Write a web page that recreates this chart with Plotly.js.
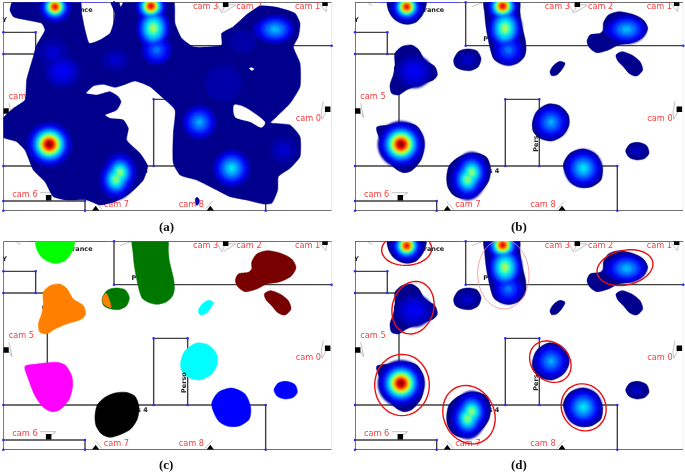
<!DOCTYPE html>
<html><head><meta charset="utf-8">
<script src="https://cdn.plot.ly/plotly-3.0.1.min.js"></script>
<style>html,body{margin:0;padding:0;background:#fff}#plot{width:685px;height:473px;filter:blur(0.55px)}</style>
</head><body><div id="plot"></div>
<script>
// All plan coordinates are in one shared floor-plan unit system (1 unit = 1/3 px).
const wallX = [30,30,null,30,100,null,345,1015,null,30,1015,null,362,362,1015,null,30,127,127,30,null,127,155,null,162,162,null,30,817,817,null,481,481,583,583,null,30,275,275];
const wallY = [7,632,null,7,7,null,7,7,null,632,632,null,7,137,137,null,97,97,162,162,null,162,162,null,162,498,null,498,498,632,null,498,298,298,498,null,603,603,632];
const dotX = [30,127,30,127,362,362,1015,162,30,481,583,481,583,817,817,30,275,275,30];
const dotY = [97,97,162,162,7,137,137,162,498,498,498,298,298,498,632,603,603,632,632];
const doorX = [100,345]; const doorY = [7,7];
const coneX = [672,685,697,null,690,727,700,null,978,998,1000,null,990,984,986,1003,null,47,56,44,null,140,188,168,null,305,326,null,657,635,null,380,412,null,70,82];
const coneY = [14,38,14,null,38,15,14,null,12,35,10,null,304,335,358,328,null,310,353,333,null,578,578,592,null,605,628,null,604,628,null,20,8,null,10,16];
const camSquareX = [697,995,1003,38,166]; const camSquareY = [13,10,328,333,593];
const camTriX = [307,651]; const camTriY = [627,627];
const camNames = ['cam 3','cam 2','cam 1','cam 5','cam 0','cam 6','cam 7','cam 8'];
const camNameX = [637,767,943,84,945,95,369,594];
const camNameY = [22,22,22,292,358,584,616,616];

const P1 = [[128,130,145,170,190,215,235,243,128],[0,30,55,70,73,65,40,0,0]];
const P2 = [[418,419,423,430,438,447,465,490,520,538,543,541,535,528,525,522,418],[0,40,80,120,155,178,190,196,188,170,150,120,95,65,35,0,0]];
const P3 = [[775,790,820,860,895,908,895,860,820,790,755,735,726,735,765,775,775],[70,45,35,42,60,85,110,128,135,150,158,145,125,105,100,90,70]];
const P4 = [[813,830,860,885,893,875,855,835,818,813],[165,155,165,185,210,228,222,200,182,165]];
const P5 = [[615,625,645,660,652,635,620,615],[215,197,184,190,207,225,227,215]];
const P6 = [[326,340,365,395,408,400,375,345,330,326],[180,155,147,152,175,200,212,208,198,180]];
const P7 = [[150,170,200,220,240,270,277,265,220,185,160,140,135,145,150,150],[160,140,135,148,180,200,225,240,255,270,285,280,255,225,195,160]];
const P8 = [[95,130,190,215,235,238,228,200,175,150,125,105,95],[382,375,370,378,410,440,480,512,518,505,470,420,382]];
const P9 = [[305,312,335,365,398,425,437,432,412,385,350,325,308,305],[530,498,475,462,460,472,505,540,570,585,595,585,560,530]];
const P10 = [[562,575,610,645,670,672,655,620,585,565,562],[370,335,312,318,345,375,405,423,415,395,370]];
const P11 = [[655,675,715,755,772,768,740,705,675,655],[495,460,447,465,505,540,560,562,545,495]];
const P12 = [[842,855,880,905,912,900,875,852,842],[453,432,427,437,460,475,480,472,453]];
const sliver = [[338,327,332,353,338],[163,181,196,206,163]];
const heatBlobs = [P1,P2,P3,P4,P5,P6,P7,P8,P9,P10,P11,P12];
const segColors = ['#00ff00','#007800','#780000','#780000','#00ffff','#007800','#ff8000','#ff00ff','#000000','#00ffff','#0000ff','#0000ff'];

// Panel (a): merged region outline, x stored 20 units left of the shared plan
const mergedX = [40,240,245,255,268,300,330,342,345,330,355,362,375,520,525,545,580,665,665,700,745,780,830,885,900,895,880,900,900,870,830,812,870,900,900,870,835,833,815,790,740,690,650,590,540,520,520,525,490,450,405,370,345,310,280,258,290,330,355,363,350,315,330,370,385,380,420,443,430,390,345,300,260,200,160,135,100,75,50,5,5,40,75,80,100,110,135,125,80,40,30,40];
const mergedY = [0,0,40,90,130,120,100,65,40,0,0,22,0,0,70,115,140,135,100,80,40,18,22,40,70,110,140,190,260,310,350,368,375,410,470,505,530,570,610,612,600,590,570,540,525,490,400,330,295,260,243,255,262,253,258,280,285,275,290,305,330,345,355,360,385,420,460,498,540,580,605,615,600,600,590,545,510,450,425,410,360,325,300,240,170,135,90,70,60,50,30,0];
const holeA = [[723,750,790,815,805,770,725,723],[315,320,345,368,382,365,350,315]];
const holeB = [[768,775,782,775,768],[205,203,207,211,205]];
const dotBlob = [[606,612,618,616,610,606],[596,592,600,612,616,596]];

// Hot spots: position, ry/rx, and the contour radius of each colour level from level 1 upwards
const levelColors = ['#0000a8','#0000cc','#0000f0','#0030ff','#0070ff','#00b0ff','#00e8f0','#50ffb0','#a0ff60','#f0f000','#ffa000','#ff4000','#e00000','#800000'];
const hotX = [185,473,480,490,845,815,207,168,380,368,618,715,875,368];
const hotY = [20,18,85,150,88,90,215,433,518,538,367,505,453,180];
const hotAspect = [1,1,1.25,1,0.72,0.75,0.9,1,1.2,1.2,1,1,0.7,0.7];
const hotRadii = [
 [50,46,41,36,31,27,24,21,18,15,12,9,5],
 [48,44,41,37,33,29,25,22,19,16,13,10,6],
 [52,48,44,40,34,28,22,15,9],
 [46,42,36,26,12],
 [60,56,50,42,30,15],
 [40,34,24],
 [55,42,24],
 [70,65,59,53,47,42,37,33,29,25,21,17,13,7],
 [52,47,41,35,29,23,18,12,6],
 [52,47,41,35,29,23,18,12,6],
 [52,48,42,33,22,9],
 [57,53,47,39,30,20,9],
 [24,12],
 [32,16]
];
const extraX = [180,365,870,750,690]; const extraY = [160,180,450,125,250];
const extraAspect = [1,0.8,1,0.8,1];
const extraRadii = [[45,22],[40,18],[40,20],[40],[55]];

// Detection ellipses in panel (d): centre, semi-axes, major-axis angle
const ellCx = [185,840,204,171,372,616,716];
const ellCy = [31,86,206,438,527,368,505];
const ellA = [75,85,80,92,90,68,72];
const ellB = [48,52,62,82,76,56,66];
const ellAngle = [-3,-12,-75,90,65,45,60];
const paleCx = [475]; const paleCy = [106]; const paleA = [104]; const paleB = [77]; const paleAngle = [88];

const captions = ['(a)','(b)','(c)','(d)'];
const captionX = [166,519,166,519]; const captionY = [226,226,464,464];
const panelX0 = [3.33,355,3.33,355]; const panelY0 = [2.33,2.33,241.33,241.33];
const planW = 985, planH = 625;

const traces = [], shapes = [], annotations = [];
const layout = {width:685,height:473,margin:{l:0,r:0,t:0,b:0},paper_bgcolor:'#fff',plot_bgcolor:'rgba(0,0,0,0)',showlegend:false,hovermode:false};

function ellipsePath(cx,cy,a,b,deg){
  const t=deg*Math.PI/180; let d='';
  for(let i=0;i<48;i++){
    const u=i/48*2*Math.PI, p=a*Math.cos(u), q=b*Math.sin(u);
    d+=(i?' L ':'M ')+(cx+p*Math.cos(t)-q*Math.sin(t))+' '+(cy+p*Math.sin(t)+q*Math.cos(t));
  }
  return d+' Z';
}
function blob(xa,ya,p,color){
  traces.push({x:p[0],y:p[1],xaxis:xa,yaxis:ya,mode:'lines',fill:'toself',fillcolor:color,line:{color:color,width:0.5,shape:'spline',smoothing:0.8},hoverinfo:'skip'});
}
['a','b','c','d'].forEach((k,i)=>{
  const s = i===0?'':String(i+1);
  const xa='x'+s, ya='y'+s;
  layout['xaxis'+s]={visible:false,fixedrange:true,range:[30,30+planW],domain:[panelX0[i]/685,(panelX0[i]+planW/3)/685],anchor:ya,showgrid:false,zeroline:false};
  layout['yaxis'+s]={visible:false,fixedrange:true,range:[7+planH,7],domain:[1-(panelY0[i]+planH/3)/473,1-panelY0[i]/473],anchor:xa,showgrid:false,zeroline:false};
  traces.push({x:[1015,1015],y:[7,632],xaxis:xa,yaxis:ya,mode:'lines',line:{color:'#d8d8d8',width:1},hoverinfo:'skip'});
  traces.push({x:coneX,y:coneY,xaxis:xa,yaxis:ya,mode:'lines',line:{color:'#b4b4b4',width:0.8},hoverinfo:'skip'});
  traces.push({x:wallX,y:wallY,xaxis:xa,yaxis:ya,mode:'lines',line:{color:'#404040',width:1.4},hoverinfo:'skip',cliponaxis:false});
  traces.push({x:doorX,y:doorY,xaxis:xa,yaxis:ya,mode:'lines',line:{color:'#1a1ae6',width:1.5},hoverinfo:'skip',cliponaxis:false});
  traces.push({x:dotX,y:dotY,xaxis:xa,yaxis:ya,mode:'markers',marker:{color:'#2a2aff',size:2.5},hoverinfo:'skip',cliponaxis:false});
  traces.push({x:camSquareX,y:camSquareY,xaxis:xa,yaxis:ya,mode:'markers',marker:{color:'#000',size:5.5,symbol:'square'},hoverinfo:'skip'});
  traces.push({x:camTriX,y:camTriY,xaxis:xa,yaxis:ya,mode:'markers',marker:{color:'#000',size:6.5,symbol:'triangle-up'},hoverinfo:'skip'});
  traces.push({x:camNameX,y:camNameY,text:camNames,xaxis:xa,yaxis:ya,mode:'text',textposition:'middle center',textfont:{family:'DejaVu Sans',size:8.2,color:'#f84040'},hoverinfo:'skip'});
  const small=[['rance',267,30],['s 4',447,513],['Y',34,60],['P',422,118],['r',150,205]];
  traces.push({x:small.map(t=>t[1]),y:small.map(t=>t[2]),text:small.map(t=>'<b>'+t[0]+'</b>'),xaxis:xa,yaxis:ya,mode:'text',textfont:{family:'DejaVu Sans',size:6.5,color:'#222'},hoverinfo:'skip'});
  if(k!=='a') annotations.push({xref:xa,yref:ya,x:572,y:432,text:'<b>'+(k==='c'?'Perso':'Pers')+'</b>',textangle:-90,showarrow:false,font:{family:'DejaVu Sans',size:6.5,color:'#222'}});

  if(k==='c'){
    heatBlobs.forEach((p,j)=>blob(xa,ya,p,segColors[j]));
    blob(xa,ya,sliver,'#ff8000');
  } else {
    if(k==='a'){
      traces.push({x:mergedX.map(v=>v+20),y:mergedY,xaxis:xa,yaxis:ya,mode:'lines',fill:'toself',fillcolor:'#00008c',line:{color:'#00008c',width:0.5,shape:'spline',smoothing:0.5},hoverinfo:'skip'});
      blob(xa,ya,holeA,'#ffffff'); blob(xa,ya,holeB,'#ffffff'); blob(xa,ya,dotBlob,'#0000a8');
    } else {
      heatBlobs.forEach(p=>blob(xa,ya,p,'#00008c'));
    }
    const X=k==='a'?hotX.concat(extraX):hotX, Y=k==='a'?hotY.concat(extraY):hotY;
    const A=k==='a'?hotAspect.concat(extraAspect):hotAspect, R=k==='a'?hotRadii.concat(extraRadii):hotRadii;
    levelColors.forEach((c,lv)=>{
      X.forEach((_,h)=>{
        const r=R[h][lv]; if(r===undefined) return;
        shapes.push({type:'circle',xref:xa,yref:ya,x0:X[h]-r,x1:X[h]+r,y0:Y[h]-r*A[h],y1:Y[h]+r*A[h],fillcolor:c,line:{width:0}});
      });
    });
  }
  if(k==='d'){
    ellCx.forEach((_,e)=>shapes.push({type:'path',xref:xa,yref:ya,path:ellipsePath(ellCx[e],ellCy[e],ellA[e],ellB[e],ellAngle[e]),line:{color:'#e81010',width:1.4},fillcolor:'rgba(0,0,0,0)'}));
    paleCx.forEach((_,e)=>shapes.push({type:'path',xref:xa,yref:ya,path:ellipsePath(paleCx[e],paleCy[e],paleA[e],paleB[e],paleAngle[e]),line:{color:'#f09090',width:0.8},fillcolor:'rgba(0,0,0,0)'}));
  }
  annotations.push({xref:'paper',yref:'paper',x:captionX[i]/685,y:1-captionY[i]/473,text:'<b>'+captions[i]+'</b>',showarrow:false,xanchor:'center',yanchor:'middle',font:{family:'Liberation Serif',size:13,color:'#111'}});
});
layout.shapes=shapes; layout.annotations=annotations;
Plotly.newPlot('plot',traces,layout,{staticPlot:true,displayModeBar:false}).then(()=>{
  document.querySelectorAll('.shapelayer path').forEach(el=>{
    const sh=shapes[+el.getAttribute('data-index')];
    if(sh && sh.type==='circle') el.style.filter='blur(1.3px)';
  });
});
</script>
</body></html>
